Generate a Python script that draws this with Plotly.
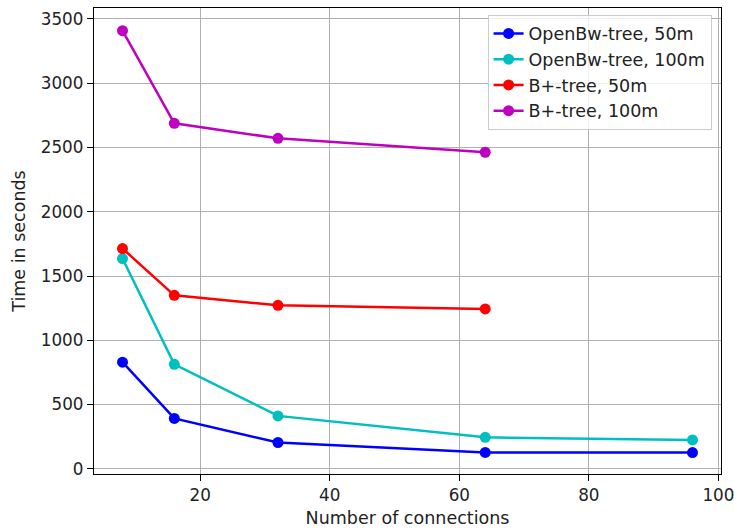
import plotly.graph_objects as go

x_bw = [8, 16, 32, 64, 96]
x_bp = [8, 16, 32, 64]
bw_50 = [830, 392, 205, 128, 127]
bw_100 = [1636, 813, 412, 245, 225]
bp_50 = [1714, 1350, 1272, 1244]
bp_100 = [3409, 2688, 2571, 2463]

series = [
    ("OpenBw-tree, 50m", x_bw, bw_50, "#0000ff"),
    ("OpenBw-tree, 100m", x_bw, bw_100, "#00bfbf"),
    ("B+-tree, 50m", x_bp, bp_50, "#ff0000"),
    ("B+-tree, 100m", x_bp, bp_100, "#bf00bf"),
]

FONT = "DejaVu Sans"
TXT = "#222"
fig = go.Figure()
for i, (name, xs, ys, c) in enumerate(series):
    fig.add_trace(go.Scatter(
        x=xs, y=ys, name=name, mode="lines+markers",
        line=dict(color=c, width=2.5),
        marker=dict(color=c, size=11),
        legendgroup="g%d" % i,
    ))

axis_common = dict(
    showline=True, linecolor="black", linewidth=1.3, mirror=True,
    showgrid=True, gridcolor="#b0b0b0", gridwidth=1.3,
    ticks="outside", ticklen=6, tickwidth=1.3, tickcolor="black",
    zeroline=False, ticklabeloverflow="allow",
    tickfont=dict(family=FONT, size=16.8, color=TXT),
)
fig.update_xaxes(range=[3.6, 100.4], tickvals=[20, 40, 60, 80, 100],
                 title=dict(text="Number of connections",
                            font=dict(family=FONT, size=17.5, color=TXT), standoff=7),
                 **axis_common)
fig.update_yaxes(range=[-40, 3585], tickvals=[0, 500, 1000, 1500, 2000, 2500, 3000, 3500],
                 title=dict(text="Time in seconds",
                            font=dict(family=FONT, size=17.5, color=TXT), standoff=10),
                 **axis_common)

fig.update_layout(
    width=734, height=528,
    margin=dict(l=94, r=13, t=8, b=54, autoexpand=False),
    paper_bgcolor="white", plot_bgcolor="white",
    font=dict(family=FONT, size=17, color=TXT),
    legend=dict(x=0.985, y=0.986, xanchor="right", yanchor="top",
                bgcolor="rgba(255,255,255,0.8)", bordercolor="#cccccc", borderwidth=1,
                font=dict(family=FONT, size=17.5, color=TXT),
                tracegroupgap=0, entrywidth=232, entrywidthmode="pixels"),
    showlegend=True,
)
fig.write_html("out.html", config={"displayModeBar": False},
               post_script="document.body.style.margin='0';document.body.style.padding='0';")
